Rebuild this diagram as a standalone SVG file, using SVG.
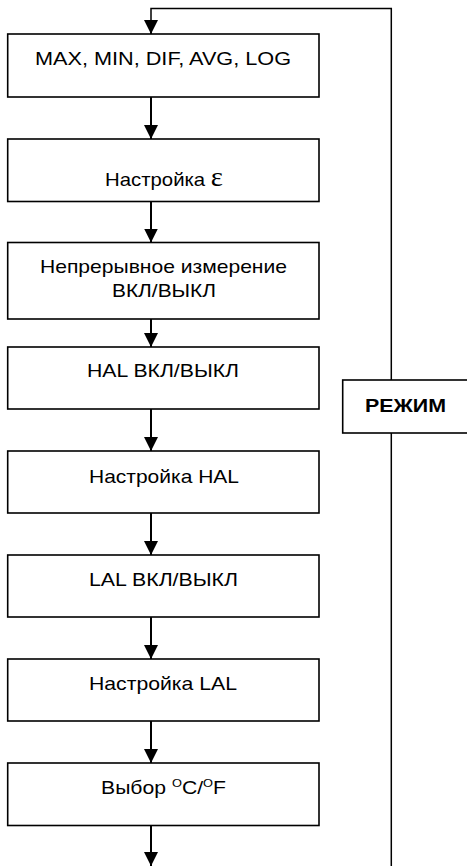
<svg xmlns="http://www.w3.org/2000/svg" width="467" height="866" viewBox="0 0 467 866">
<defs>
<style>
.box{fill:#fff;stroke:#000;stroke-width:1.6}
.t{font-family:"Liberation Sans",Arial,sans-serif;font-size:19px;fill:#000;text-anchor:middle}
.b{font-weight:bold}
.c{fill:none;stroke:#000;stroke-width:2}
.f{fill:none;stroke:#000;stroke-width:1.5}
.sup{font-size:11.5px}
.eps{font-family:"Liberation Serif","Times New Roman",serif;font-size:27px}
</style>
<marker id="ah" viewBox="0 0 14 14" refX="14" refY="7" markerWidth="14" markerHeight="14" markerUnits="userSpaceOnUse" orient="auto">
<path d="M0,0 L14,7 L0,14 Z" fill="#000"/>
</marker>
</defs>
<rect width="467" height="866" fill="#fff"/>
<g id="connectors">
<path class="f" d="M391.3,380 V8.5 H151 V22"/>
<path class="f" d="M391.3,433 V866"/>
<path class="c" d="M151,22 V34" marker-end="url(#ah)"/>
<path class="c" d="M151,97 V139" marker-end="url(#ah)"/>
<path class="c" d="M151,201.5 V242.5" marker-end="url(#ah)"/>
<path class="c" d="M151,305 V347" marker-end="url(#ah)"/>
<path class="c" d="M151,409 V451" marker-end="url(#ah)"/>
<path class="c" d="M151,513 V555" marker-end="url(#ah)"/>
<path class="c" d="M151,617 V659" marker-end="url(#ah)"/>
<path class="c" d="M151,721 V763" marker-end="url(#ah)"/>
<path class="c" d="M151,825.5 V866" marker-end="url(#ah)"/>
</g>
<g id="n1"><rect class="box" x="7.7" y="34" width="311.3" height="63"/><text class="t" x="163" y="65" textLength="256" lengthAdjust="spacingAndGlyphs">MAX, MIN, DIF, AVG, LOG</text></g>
<g id="n2"><rect class="box" x="7.7" y="139" width="311.3" height="62.5"/><text class="t" x="164" y="186" textLength="118" lengthAdjust="spacingAndGlyphs">Настройка <tspan class="eps">ε</tspan></text></g>
<g id="n3"><rect class="box" x="7.7" y="242.5" width="311.3" height="76.5"/><text class="t" x="163.5" y="273" textLength="247" lengthAdjust="spacingAndGlyphs">Непрерывное измерение</text><text class="t" x="164" y="297" textLength="104" lengthAdjust="spacingAndGlyphs">ВКЛ/ВЫКЛ</text></g>
<g id="n4"><rect class="box" x="7.7" y="347" width="311.3" height="62"/><text class="t" x="163" y="377" textLength="152" lengthAdjust="spacingAndGlyphs">HAL ВКЛ/ВЫКЛ</text></g>
<g id="n5"><rect class="box" x="7.7" y="451" width="311.3" height="62"/><text class="t" x="164" y="483" textLength="150" lengthAdjust="spacingAndGlyphs">Настройка HAL</text></g>
<g id="n6"><rect class="box" x="7.7" y="555" width="311.3" height="62"/><text class="t" x="163.5" y="586" textLength="149" lengthAdjust="spacingAndGlyphs">LAL ВКЛ/ВЫКЛ</text></g>
<g id="n7"><rect class="box" x="7.7" y="659" width="311.3" height="62"/><text class="t" x="163" y="690" textLength="148" lengthAdjust="spacingAndGlyphs">Настройка LAL</text></g>
<g id="n8"><rect class="box" x="7.7" y="763" width="311.3" height="62.5"/><text class="t" x="163.5" y="794" textLength="125" lengthAdjust="spacingAndGlyphs">Выбор <tspan class="sup" dy="-7">O</tspan><tspan dy="7">C/</tspan><tspan class="sup" dy="-7">O</tspan><tspan dy="7">F</tspan></text></g>
<g id="mode"><rect class="box" x="342.7" y="380" width="130" height="53"/><text class="t b" x="405.5" y="411.5" textLength="81" lengthAdjust="spacingAndGlyphs">РЕЖИМ</text></g>
</svg>
